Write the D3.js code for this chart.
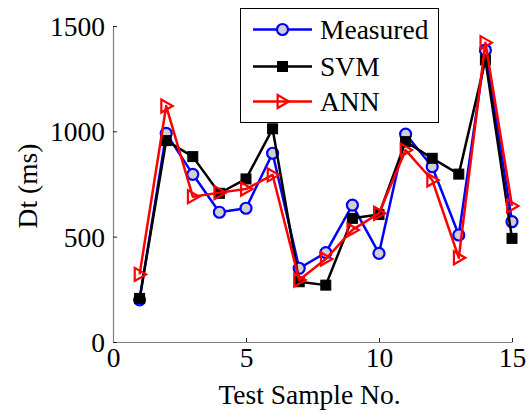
<!DOCTYPE html>
<html>
<head>
<meta charset="utf-8">
<script src="https://d3js.org/d3.v7.min.js"></script>
<style>
  html, body { margin: 0; padding: 0; background: #fff; }
  svg { display: block; }
  svg text { font-family: "Liberation Serif", "Times New Roman", "DejaVu Serif", serif; }
</style>
</head>
<body>
<svg id="chart" width="532" height="412"></svg>
<script>
const samples = [1,2,3,4,5,6,7,8,9,10,11,12,13,14,15];
const measured = [200, 990, 796, 616, 635, 896, 350, 424, 650, 421, 987, 832, 508, 1386, 571];
const svm      = [207, 956, 880, 706, 774, 1012, 286, 270, 587, 605, 951, 872, 797, 1339, 492];
const ann      = [321, 1120, 690, 709, 726, 793, 294, 394, 532, 611, 911, 769, 400, 1421, 646];
const seriesNames = ["Measured", "SVM", "ANN"];
const xTicks = [0, 5, 10, 15];
const yTicks = [0, 500, 1000, 1500];

const W = 532, H = 412;
const m = {left: 113, right: 20, top: 26, bottom: 70};
const FONT = "'Liberation Serif', 'Times New Roman', serif";
const svg = d3.select("#chart");

const x = d3.scaleLinear().domain([0, 15]).range([m.left, W - m.right]);
const y = d3.scaleLinear().domain([0, 1500]).range([H - m.bottom, m.top]);

const FS = 27.5;

// axes
const xAxis = d3.axisBottom(x).tickValues(xTicks).tickFormat(d3.format("d"))
  .tickSize(-4).tickPadding(10).tickSizeOuter(0);
const gx = svg.append("g").attr("transform", `translate(0,${y(0)})`).call(xAxis)
  .attr("font-family", FONT).attr("font-size", FS);
gx.select(".domain").attr("stroke", "#808080").attr("stroke-width", 1.2);
gx.selectAll(".tick line").attr("stroke", "#222");
gx.selectAll(".tick text").attr("fill", "#000").attr("dy", "0.55em");

const yAxis = d3.axisLeft(y).tickValues(yTicks).tickFormat(d3.format("d"))
  .tickSize(-4).tickPadding(8).tickSizeOuter(0);
const gy = svg.append("g").attr("transform", `translate(${x(0)},0)`).call(yAxis)
  .attr("font-family", FONT).attr("font-size", FS);
gy.select(".domain").attr("stroke", "#808080").attr("stroke-width", 1.2);
gy.selectAll(".tick line").attr("stroke", "#222");
gy.selectAll(".tick text").attr("fill", "#000").attr("dy", "0.35em");

// axis labels
svg.append("text").attr("x", (x(0) + x(15)) / 2 - 3).attr("y", 404)
  .attr("text-anchor", "middle").attr("font-size", FS).attr("font-family", FONT)
  .text("Test Sample No.");
svg.append("text").attr("transform", `translate(37,${(y(0)+y(1500))/2 + 2}) rotate(-90)`)
  .attr("text-anchor", "middle").attr("font-size", FS).attr("font-family", FONT)
  .text("Dt (ms)");

const styles = {
  Measured: {color: "#0000ff", data: measured},
  SVM: {color: "#000000", data: svm},
  ANN: {color: "#ff0000", data: ann}
};

const line = d3.line().x((d, i) => x(samples[i])).y(d => y(d));

function drawMarker(g, name, cx, cy) {
  if (name === "Measured") {
    g.append("circle").attr("cx", cx).attr("cy", cy).attr("r", 5.5)
      .attr("fill", "#d0d0d0").attr("stroke", "#0000ff").attr("stroke-width", 2.2);
  } else if (name === "SVM") {
    g.append("rect").attr("x", cx - 5).attr("y", cy - 5).attr("width", 10).attr("height", 10)
      .attr("fill", "#000").attr("stroke", "#000").attr("stroke-width", 1);
  } else {
    const s = 6.5;
    g.append("path").attr("d", `M${cx - s * 0.75},${cy - s} L${cx + s},${cy} L${cx - s * 0.75},${cy + s} Z`)
      .attr("fill", "none").attr("stroke", "#ff0000").attr("stroke-width", 2.2)
      .attr("stroke-linejoin", "miter");
  }
}

seriesNames.forEach(name => {
  const st = styles[name];
  const g = svg.append("g");
  g.append("path").datum(st.data).attr("d", line).attr("fill", "none")
    .attr("stroke", st.color).attr("stroke-width", 2.5).attr("stroke-linejoin", "round");
  st.data.forEach((v, i) => drawMarker(g, name, x(samples[i]), y(v)));
});

// legend
const lg = svg.append("g");
lg.append("rect").attr("x", 240.5).attr("y", 8.5).attr("width", 198).attr("height", 114)
  .attr("fill", "#fff").attr("stroke", "#000").attr("stroke-width", 1);
const legendY = [29.5, 66.5, 101.5];
seriesNames.forEach((name, i) => {
  const st = styles[name];
  const ly = legendY[i];
  lg.append("line").attr("x1", 253).attr("x2", 312).attr("y1", ly).attr("y2", ly)
    .attr("stroke", st.color).attr("stroke-width", 2.5);
  drawMarker(lg, name, 282.5, ly);
  lg.append("text").attr("x", 320).attr("y", ly).attr("dy", "0.35em")
    .attr("font-size", FS).attr("font-family", FONT).text(name);
});
</script>
</body>
</html>
